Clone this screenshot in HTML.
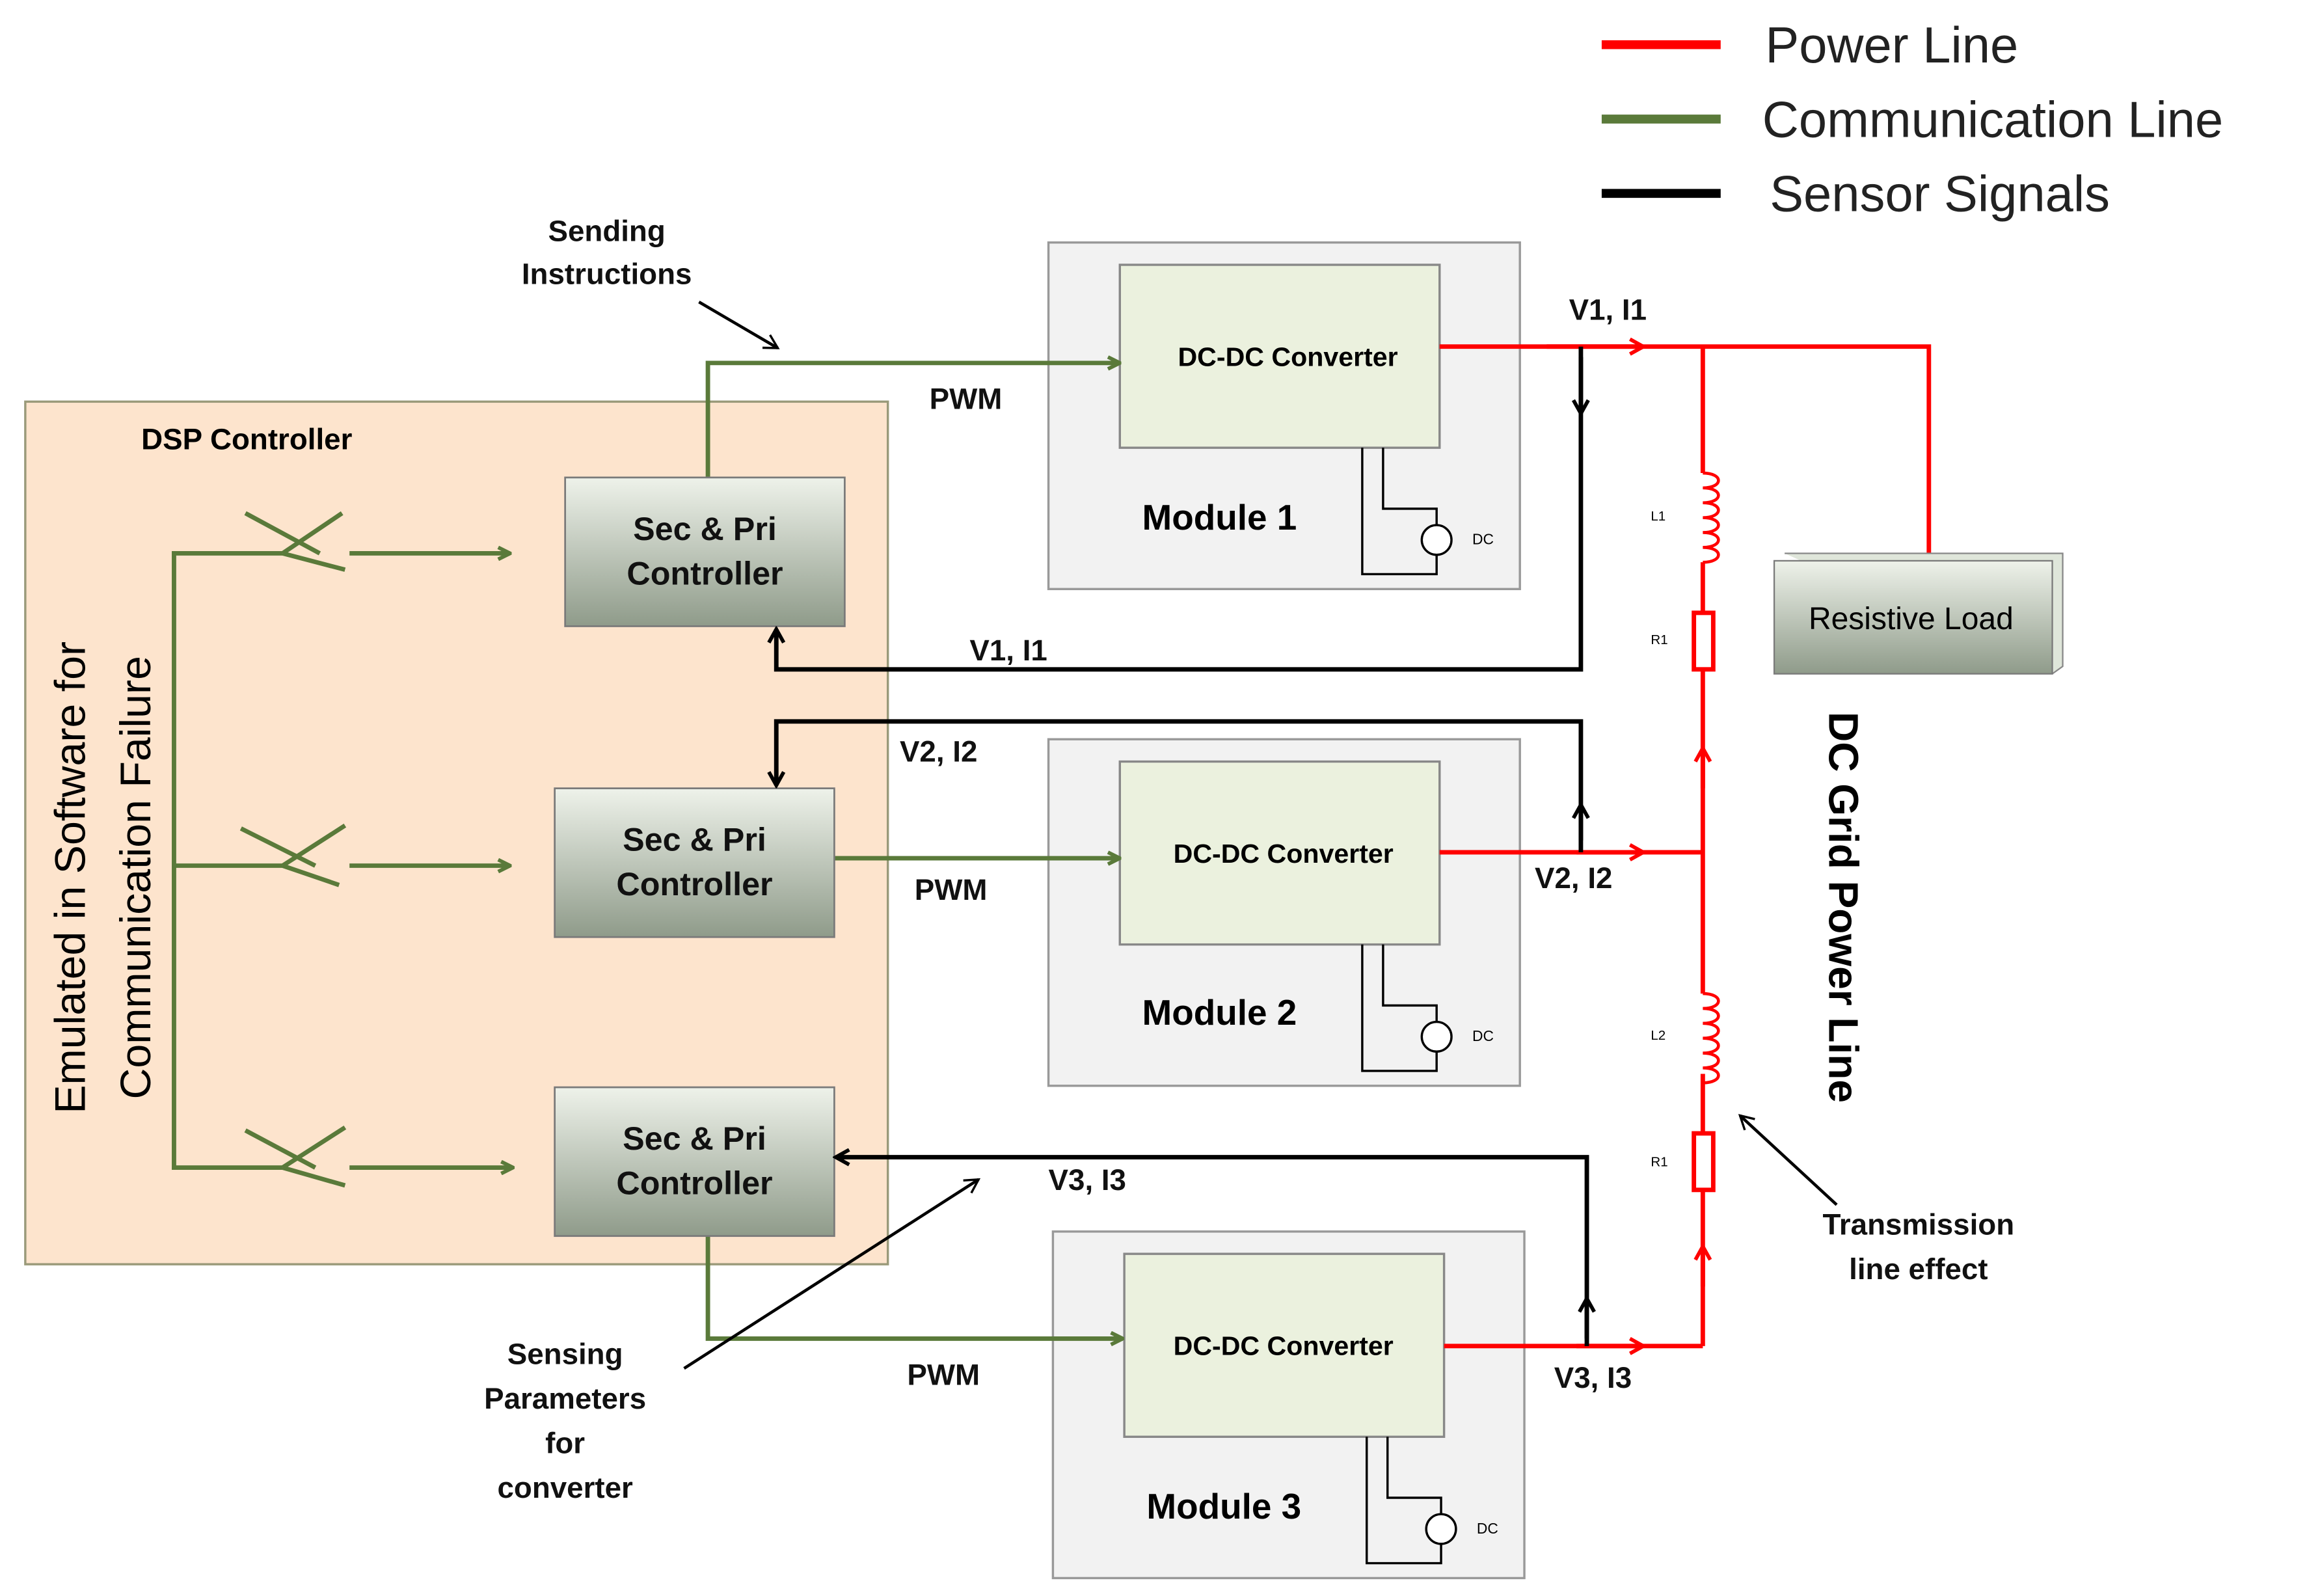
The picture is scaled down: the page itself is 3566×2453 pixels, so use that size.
<!DOCTYPE html>
<html><head><meta charset="utf-8"><style>html,body{margin:0;padding:0;background:#fff}svg{display:block}</style></head>
<body>
<svg width="3566" height="2453" viewBox="0 0 1560 1073" xmlns="http://www.w3.org/2000/svg" font-family="Liberation Sans, sans-serif">
<defs>
<linearGradient id="g" x1="0" y1="0" x2="0" y2="1"><stop offset="0" stop-color="#eef2ea"/><stop offset="1" stop-color="#8f9b8a"/></linearGradient>
<marker id="ag" markerWidth="10" markerHeight="10" refX="9" refY="5" orient="auto" markerUnits="userSpaceOnUse"><path d="M1,1 L9,5 L1,9" fill="none" stroke="#5a7a3a" stroke-width="2.5"/></marker>
<marker id="ab" markerWidth="12" markerHeight="12" refX="10" refY="6" orient="auto" markerUnits="userSpaceOnUse"><path d="M1,1 L10,6 L1,11" fill="none" stroke="#000" stroke-width="2.5"/></marker>
<marker id="ar" markerWidth="12" markerHeight="12" refX="10" refY="6" orient="auto" markerUnits="userSpaceOnUse"><path d="M1,1 L10,6 L1,11" fill="none" stroke="#f00" stroke-width="2.5"/></marker>
<marker id="at" markerWidth="12" markerHeight="12" refX="10" refY="6" orient="auto" markerUnits="userSpaceOnUse"><path d="M1,1 L10,6 L1,11" fill="none" stroke="#000" stroke-width="1.5"/></marker>
</defs>
<line x1="1077" y1="30" x2="1157" y2="30" stroke="#f00" stroke-width="6"/>
<line x1="1077" y1="80" x2="1157" y2="80" stroke="#5a7a3a" stroke-width="6"/>
<line x1="1077" y1="130" x2="1157" y2="130" stroke="#000" stroke-width="6"/>
<g font-size="34" fill="#222"><text x="1187" y="42">Power Line</text><text x="1185" y="92">Communication Line</text><text x="1190" y="142">Sensor Signals</text></g>
<rect x="17" y="270" width="580" height="580" fill="#fde4cd" stroke="#9a9a7a" stroke-width="1.5"/>
<text x="95" y="302" font-size="20" font-weight="bold">DSP Controller</text>
<g font-size="29" transform="rotate(-90)"><text x="-590" y="57" text-anchor="middle">Emulated in Software for</text><text x="-590" y="101" text-anchor="middle">Communication Failure</text></g>
<g stroke="#999" stroke-width="1.5"><rect x="705" y="163" width="317" height="233" fill="#f2f2f2"/><rect x="705" y="497" width="317" height="233" fill="#f2f2f2"/><rect x="708" y="828" width="317" height="233" fill="#f2f2f2"/>
<rect x="753" y="178" width="215" height="123" fill="#ebf1de" stroke="#888"/><rect x="753" y="512" width="215" height="123" fill="#ebf1de" stroke="#888"/><rect x="756" y="843" width="215" height="123" fill="#ebf1de" stroke="#888"/></g>
<g stroke="#5a7a3a" stroke-width="3" fill="none">
<path d="M190,372 H117 V785 H190 M117,582 H190"/>
<path d="M190,372 L230,345 M190,372 L232,383 M165,345 L215,372" />
<path d="M190,582 L232,555 M190,582 L228,595 M162,557 L212,582"/>
<path d="M190,785 L232,758 M190,785 L232,797 M165,760 L212,785"/>
<line x1="235" y1="372" x2="343" y2="372" marker-end="url(#ag)"/>
<line x1="235" y1="582" x2="343" y2="582" marker-end="url(#ag)"/>
<line x1="235" y1="785" x2="345" y2="785" marker-end="url(#ag)"/>
<path d="M476,321 V244 H753" marker-end="url(#ag)"/>
<path d="M561,577 H753" marker-end="url(#ag)"/>
<path d="M476,831 V900 H755" marker-end="url(#ag)"/>
</g>
<g stroke="#7a7a7a" stroke-width="1.2" fill="url(#g)">
<rect x="380" y="321" width="188" height="100"/><rect x="373" y="530" width="188" height="100"/><rect x="373" y="731" width="188" height="100"/></g>
<g font-size="22" font-weight="bold" text-anchor="middle" fill="#111">
<text x="474" y="363">Sec &amp; Pri</text><text x="474" y="393">Controller</text>
<text x="467" y="572">Sec &amp; Pri</text><text x="467" y="602">Controller</text>
<text x="467" y="773">Sec &amp; Pri</text><text x="467" y="803">Controller</text></g>
<g font-size="18" font-weight="bold" text-anchor="middle"><text x="866" y="246">DC-DC Converter</text><text x="863" y="580">DC-DC Converter</text><text x="863" y="911">DC-DC Converter</text></g>
<g font-size="24" font-weight="bold" text-anchor="middle"><text x="820" y="356">Module 1</text><text x="820" y="689">Module 2</text><text x="823" y="1021">Module 3</text></g>
<g stroke="#000" stroke-width="1.5" fill="none">
<path d="M930,301 V342 H966 V353 M966,373 V386 H916 V301"/><circle cx="966" cy="363" r="10" fill="#fff"/>
<path d="M930,635 V676 H966 V687 M966,707 V720 H916 V635"/><circle cx="966" cy="697" r="10" fill="#fff"/>
<path d="M933,966 V1007 H969 V1018 M969,1038 V1051 H919 V966"/><circle cx="969" cy="1028" r="10" fill="#fff"/>
</g>
<g font-size="10"><text x="990" y="366">DC</text><text x="990" y="700">DC</text><text x="993" y="1031">DC</text></g>
<g stroke="#f00" stroke-width="3" fill="none">
<path d="M968,233 H1297 V372"/>
<line x1="1040" y1="233" x2="1105" y2="233" marker-end="url(#ar)"/>
<path d="M1145,233 V318 M1145,378 V412 M1145,450 V668 M1145,722 V762 M1145,800 V905"/>
<path d="M1145,318 c14,0 14,10 0,10 c14,0 14,10 0,10 c14,0 14,10 0,10 c14,0 14,10 0,10 c14,0 14,10 0,10 c14,0 14,10 0,10" stroke-width="2"/>
<path d="M1145,668 c14,0 14,10 0,10 c14,0 14,10 0,10 c14,0 14,10 0,10 c14,0 14,10 0,10 c14,0 14,10 0,10 c14,0 14,10 0,10" stroke-width="2"/>
<rect x="1139" y="412" width="13" height="38"/><rect x="1139" y="762" width="13" height="38"/>
<line x1="1145" y1="530" x2="1145" y2="503" marker-end="url(#ar)"/>
<line x1="1145" y1="865" x2="1145" y2="838" marker-end="url(#ar)"/>
<path d="M968,573 H1145"/><line x1="1060" y1="573" x2="1105" y2="573" marker-end="url(#ar)"/>
<path d="M971,905 H1145"/><line x1="1060" y1="905" x2="1105" y2="905" marker-end="url(#ar)"/>
</g>
<g font-size="9"><text x="1110" y="350">L1</text><text x="1110" y="433">R1</text><text x="1110" y="699">L2</text><text x="1110" y="784">R1</text></g>
<g stroke="#000" stroke-width="3" fill="none">
<path d="M1063,233 V450 H522 V423" marker-end="url(#ab)"/>
<line x1="1063" y1="240" x2="1063" y2="278" marker-end="url(#ab)"/>
<path d="M1063,573 V485 H522 V528" marker-end="url(#ab)"/>
<line x1="1063" y1="565" x2="1063" y2="541" marker-end="url(#ab)"/>
<path d="M1067,905 V778 H562" marker-end="url(#ab)"/>
<line x1="1067" y1="900" x2="1067" y2="873" marker-end="url(#ab)"/>
</g>
<g font-size="20" font-weight="bold" fill="#111">
<text x="625" y="275">PWM</text><text x="615" y="605">PWM</text><text x="610" y="931">PWM</text>
<text x="652" y="444">V1, I1</text><text x="605" y="512">V2, I2</text><text x="705" y="800">V3, I3</text>
<text x="1055" y="215">V1, I1</text><text x="1032" y="597">V2, I2</text><text x="1045" y="933">V3, I3</text>
<text x="408" y="162" text-anchor="middle">Sending</text><text x="408" y="191" text-anchor="middle">Instructions</text>
<text x="1290" y="830" text-anchor="middle">Transmission</text><text x="1290" y="860" text-anchor="middle">line effect</text>
<text x="380" y="917" text-anchor="middle">Sensing</text><text x="380" y="947" text-anchor="middle">Parameters</text><text x="380" y="977" text-anchor="middle">for</text><text x="380" y="1007" text-anchor="middle">converter</text>
</g>
<g stroke="#000" stroke-width="2" fill="none">
<line x1="470" y1="203" x2="523" y2="234" marker-end="url(#at)"/>
<line x1="1235" y1="810" x2="1170" y2="750" marker-end="url(#at)"/>
<line x1="460" y1="920" x2="658" y2="793" marker-end="url(#at)"/>
</g>
<path d="M1200,372 H1387 V448 L1380,453" fill="#dfe6da" stroke="#888"/>
<rect x="1193" y="377" width="187" height="76" fill="url(#g)" stroke="#7a7a7a"/>
<text x="1285" y="423" font-size="21" text-anchor="middle">Resistive Load</text>
<text transform="translate(1230,610) rotate(90)" font-size="28" font-weight="bold" text-anchor="middle">DC Grid Power Line</text>
</svg>
</body></html>
